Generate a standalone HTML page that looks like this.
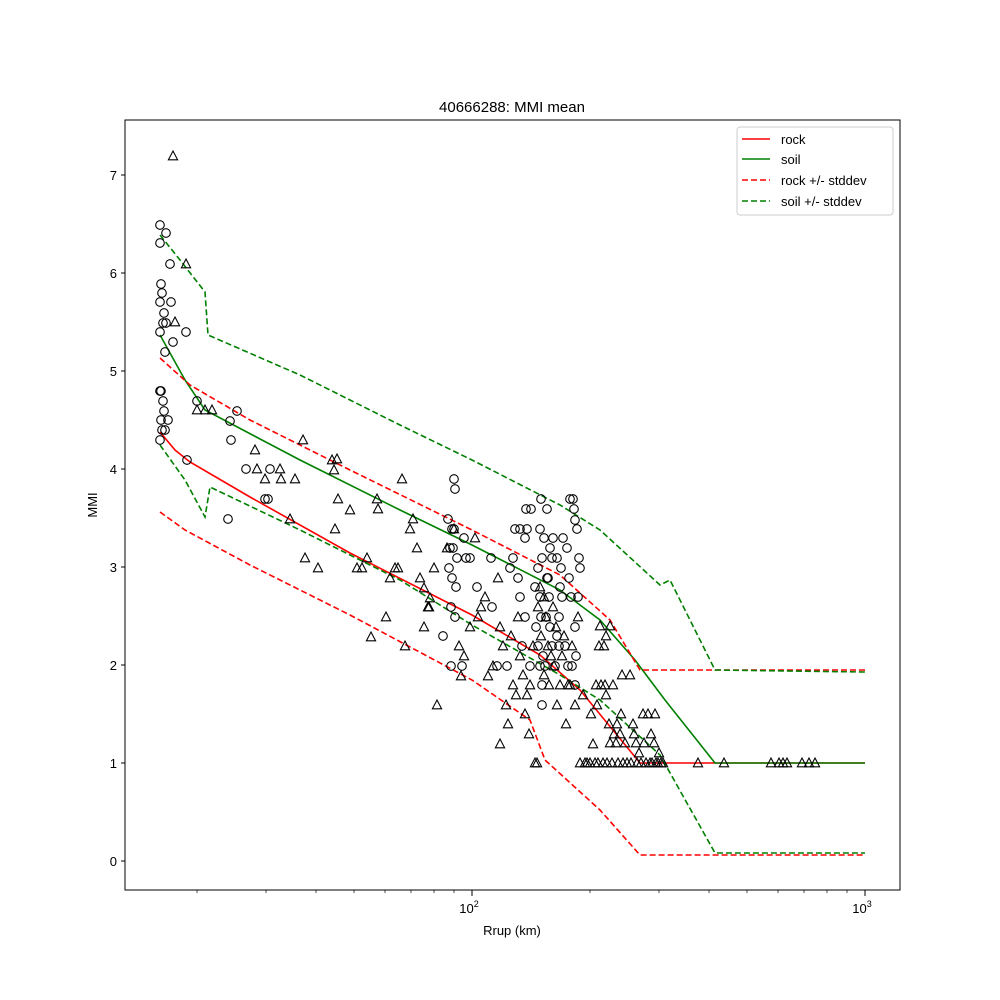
<!DOCTYPE html>
<html><head><meta charset="utf-8"><style>body{margin:0;background:#fff}svg{display:block;font-family:"Liberation Sans","DejaVu Sans",sans-serif}</style></head>
<body>
<svg width="1000" height="1000" viewBox="0 0 1000 1000" xmlns="http://www.w3.org/2000/svg">
<defs>
<circle id="c" r="4.3" fill="none" stroke="#000" stroke-width="1.1"/>
<path id="t" d="M0,-5 L4.6,3.8 L-4.6,3.8 Z" fill="none" stroke="#000" stroke-width="1.1"/>
</defs>
<rect width="1000" height="1000" fill="#fff"/>
<text x="512" y="112" font-size="15" text-anchor="middle">40666288: MMI mean</text>
<!-- lines -->
<g fill="none" stroke-width="1.6">
<polyline stroke="#ff0000" points="160,432 175,450 190,462 250,497 350,553 472,615 540,655 580,690 640,763 865,763"/>
<polyline stroke="#008000" points="160,335 185,380 205,410 300,460 400,510 472,545 560,590 600,620 635,660 665,700 715,763 865,763"/>
<g stroke-dasharray="6,3">
<polyline stroke="#ff0000" points="160,358 190,385 250,420 350,470 472,530 560,575 610,620 640,670 865,670"/>
<polyline stroke="#ff0000" points="160,512 185,530 250,565 350,615 472,680 530,720 545,760 600,810 640,855 865,855"/>
<polyline stroke="#008000" points="160,235 180,260 205,292 208,335 300,375 400,425 472,460 560,505 600,530 660,585 670,580 715,670 865,672"/>
<polyline stroke="#008000" points="160,445 185,480 205,517 210,487 300,530 400,580 472,625 560,675 600,700 660,755 715,853 865,853"/>
</g></g>
<!-- circles -->
<g>
<use href="#c" x="160" y="225"/><use href="#c" x="166" y="233"/><use href="#c" x="160" y="243"/><use href="#c" x="170" y="264"/><use href="#c" x="161" y="284"/><use href="#c" x="162" y="293"/><use href="#c" x="171" y="302"/><use href="#c" x="160" y="302"/><use href="#c" x="164" y="313"/><use href="#c" x="163" y="323"/><use href="#c" x="166" y="323"/><use href="#c" x="160" y="332"/><use href="#c" x="173" y="342"/><use href="#c" x="165" y="352"/><use href="#c" x="186" y="332"/><use href="#c" x="197" y="401"/><use href="#c" x="237" y="411"/><use href="#c" x="230" y="421"/><use href="#c" x="231" y="440"/><use href="#c" x="160" y="391"/><use href="#c" x="161" y="391"/><use href="#c" x="161" y="420"/><use href="#c" x="163" y="401"/><use href="#c" x="164" y="411"/><use href="#c" x="168" y="420"/><use href="#c" x="162" y="430"/><use href="#c" x="165" y="430"/><use href="#c" x="160" y="440"/><use href="#c" x="187" y="460"/><use href="#c" x="228" y="519"/><use href="#c" x="246" y="469"/><use href="#c" x="270" y="469"/><use href="#c" x="265" y="499"/><use href="#c" x="268" y="499"/>
<use href="#c" x="454" y="479"/><use href="#c" x="455" y="489"/><use href="#c" x="448" y="519"/><use href="#c" x="452" y="529"/><use href="#c" x="454" y="529"/><use href="#c" x="464" y="538"/><use href="#c" x="450" y="548"/><use href="#c" x="453" y="548"/><use href="#c" x="457" y="558"/><use href="#c" x="449" y="568"/><use href="#c" x="452" y="578"/><use href="#c" x="456" y="587"/><use href="#c" x="451" y="607"/><use href="#c" x="455" y="617"/><use href="#c" x="443" y="636"/><use href="#c" x="451" y="666"/><use href="#c" x="462" y="666"/><use href="#c" x="466" y="558"/><use href="#c" x="470" y="558"/><use href="#c" x="477" y="587"/><use href="#c" x="491" y="558"/><use href="#c" x="492" y="607"/><use href="#c" x="497" y="666"/><use href="#c" x="507" y="666"/><use href="#c" x="510" y="568"/><use href="#c" x="513" y="558"/><use href="#c" x="515" y="529"/><use href="#c" x="520" y="529"/><use href="#c" x="525" y="538"/><use href="#c" x="526" y="509"/><use href="#c" x="518" y="578"/><use href="#c" x="527" y="529"/><use href="#c" x="531" y="509"/><use href="#c" x="520" y="597"/><use href="#c" x="525" y="617"/><use href="#c" x="522" y="646"/><use href="#c" x="530" y="666"/><use href="#c" x="535" y="587"/><use href="#c" x="538" y="568"/><use href="#c" x="540" y="597"/><use href="#c" x="541" y="617"/><use href="#c" x="544" y="538"/><use href="#c" x="542" y="558"/><use href="#c" x="536" y="627"/><use href="#c" x="538" y="646"/><use href="#c" x="540" y="666"/><use href="#c" x="543" y="656"/><use href="#c" x="545" y="666"/><use href="#c" x="548" y="578"/><use href="#c" x="549" y="597"/><use href="#c" x="541" y="499"/><use href="#c" x="547" y="509"/><use href="#c" x="540" y="529"/><use href="#c" x="546" y="617"/><use href="#c" x="550" y="627"/><use href="#c" x="552" y="646"/><use href="#c" x="555" y="666"/><use href="#c" x="542" y="685"/><use href="#c" x="557" y="636"/><use href="#c" x="560" y="587"/><use href="#c" x="561" y="568"/><use href="#c" x="559" y="617"/><use href="#c" x="562" y="597"/><use href="#c" x="565" y="646"/><use href="#c" x="568" y="666"/><use href="#c" x="550" y="548"/><use href="#c" x="552" y="558"/><use href="#c" x="547" y="578"/><use href="#c" x="553" y="538"/><use href="#c" x="557" y="558"/><use href="#c" x="563" y="538"/><use href="#c" x="567" y="548"/><use href="#c" x="569" y="578"/><use href="#c" x="571" y="597"/><use href="#c" x="575" y="627"/><use href="#c" x="572" y="666"/><use href="#c" x="576" y="656"/><use href="#c" x="559" y="646"/><use href="#c" x="542" y="705"/><use href="#c" x="570" y="499"/><use href="#c" x="573" y="499"/><use href="#c" x="574" y="509"/><use href="#c" x="575" y="520"/><use href="#c" x="577" y="529"/><use href="#c" x="579" y="558"/><use href="#c" x="580" y="568"/><use href="#c" x="578" y="597"/><use href="#c" x="575" y="685"/>
</g>
<!-- triangles -->
<g>
<use href="#t" x="173" y="156"/><use href="#t" x="186" y="264"/><use href="#t" x="175" y="322"/><use href="#t" x="197" y="410"/><use href="#t" x="205" y="410"/><use href="#t" x="212" y="410"/><use href="#t" x="255" y="450"/><use href="#t" x="257" y="469"/><use href="#t" x="265" y="479"/><use href="#t" x="280" y="469"/><use href="#t" x="281" y="479"/><use href="#t" x="295" y="479"/><use href="#t" x="290" y="519"/><use href="#t" x="303" y="440"/><use href="#t" x="332" y="460"/><use href="#t" x="337" y="459"/><use href="#t" x="334" y="470"/><use href="#t" x="338" y="499"/><use href="#t" x="350" y="510"/><use href="#t" x="335" y="529"/><use href="#t" x="305" y="558"/><use href="#t" x="318" y="568"/><use href="#t" x="357" y="568"/><use href="#t" x="362" y="568"/><use href="#t" x="367" y="558"/><use href="#t" x="371" y="637"/><use href="#t" x="377" y="499"/><use href="#t" x="378" y="509"/><use href="#t" x="386" y="617"/><use href="#t" x="390" y="578"/><use href="#t" x="395" y="568"/><use href="#t" x="398" y="568"/><use href="#t" x="402" y="479"/><use href="#t" x="405" y="646"/><use href="#t" x="410" y="529"/><use href="#t" x="413" y="519"/><use href="#t" x="417" y="548"/><use href="#t" x="420" y="578"/><use href="#t" x="424" y="588"/><use href="#t" x="428" y="607"/><use href="#t" x="430" y="598"/><use href="#t" x="437" y="705"/><use href="#t" x="434" y="568"/><use href="#t" x="424" y="627"/><use href="#t" x="429" y="607"/><use href="#t" x="447" y="548"/><use href="#t" x="454" y="529"/><use href="#t" x="459" y="646"/><use href="#t" x="461" y="676"/><use href="#t" x="464" y="656"/><use href="#t" x="470" y="627"/><use href="#t" x="475" y="538"/><use href="#t" x="478" y="617"/><use href="#t" x="481" y="607"/><use href="#t" x="485" y="597"/><use href="#t" x="488" y="676"/><use href="#t" x="493" y="666"/><use href="#t" x="498" y="578"/><use href="#t" x="500" y="627"/><use href="#t" x="500" y="744"/><use href="#t" x="503" y="646"/><use href="#t" x="506" y="705"/><use href="#t" x="508" y="724"/><use href="#t" x="511" y="636"/><use href="#t" x="513" y="685"/><use href="#t" x="516" y="695"/><use href="#t" x="518" y="617"/><use href="#t" x="520" y="656"/><use href="#t" x="523" y="675"/><use href="#t" x="525" y="714"/><use href="#t" x="527" y="695"/><use href="#t" x="529" y="734"/><use href="#t" x="530" y="685"/><use href="#t" x="533" y="646"/><use href="#t" x="535" y="763"/><use href="#t" x="537" y="763"/><use href="#t" x="538" y="607"/><use href="#t" x="540" y="587"/><use href="#t" x="541" y="636"/><use href="#t" x="544" y="597"/><use href="#t" x="544" y="675"/><use href="#t" x="546" y="617"/><use href="#t" x="548" y="646"/><use href="#t" x="549" y="685"/><use href="#t" x="551" y="656"/><use href="#t" x="553" y="607"/><use href="#t" x="554" y="666"/><use href="#t" x="556" y="627"/><use href="#t" x="557" y="705"/><use href="#t" x="560" y="685"/><use href="#t" x="562" y="656"/><use href="#t" x="564" y="636"/><use href="#t" x="566" y="724"/><use href="#t" x="568" y="685"/><use href="#t" x="570" y="685"/><use href="#t" x="572" y="646"/><use href="#t" x="575" y="705"/><use href="#t" x="578" y="617"/><use href="#t" x="580" y="763"/><use href="#t" x="583" y="695"/><use href="#t" x="585" y="763"/><use href="#t" x="587" y="763"/><use href="#t" x="590" y="763"/><use href="#t" x="591" y="714"/><use href="#t" x="593" y="744"/><use href="#t" x="595" y="763"/><use href="#t" x="596" y="685"/><use href="#t" x="597" y="705"/><use href="#t" x="598" y="763"/><use href="#t" x="599" y="646"/><use href="#t" x="600" y="626"/><use href="#t" x="601" y="685"/><use href="#t" x="603" y="763"/><use href="#t" x="604" y="646"/><use href="#t" x="605" y="685"/><use href="#t" x="606" y="636"/><use href="#t" x="607" y="763"/><use href="#t" x="609" y="724"/><use href="#t" x="610" y="743"/><use href="#t" x="612" y="763"/><use href="#t" x="613" y="685"/><use href="#t" x="614" y="734"/><use href="#t" x="616" y="743"/><use href="#t" x="617" y="724"/><use href="#t" x="618" y="763"/><use href="#t" x="620" y="734"/><use href="#t" x="621" y="714"/><use href="#t" x="622" y="675"/><use href="#t" x="623" y="763"/><use href="#t" x="625" y="743"/><use href="#t" x="627" y="763"/><use href="#t" x="630" y="675"/><use href="#t" x="631" y="763"/><use href="#t" x="633" y="724"/><use href="#t" x="634" y="734"/><use href="#t" x="636" y="743"/><use href="#t" x="637" y="763"/><use href="#t" x="639" y="753"/><use href="#t" x="641" y="763"/><use href="#t" x="643" y="714"/><use href="#t" x="644" y="743"/><use href="#t" x="646" y="763"/><use href="#t" x="648" y="714"/><use href="#t" x="650" y="763"/><use href="#t" x="651" y="734"/><use href="#t" x="652" y="763"/><use href="#t" x="654" y="743"/><use href="#t" x="655" y="714"/><use href="#t" x="656" y="763"/><use href="#t" x="658" y="763"/><use href="#t" x="659" y="753"/><use href="#t" x="661" y="763"/><use href="#t" x="663" y="763"/><use href="#t" x="698" y="763"/><use href="#t" x="724" y="763"/><use href="#t" x="771" y="763"/><use href="#t" x="779" y="763"/><use href="#t" x="783" y="763"/><use href="#t" x="787" y="763"/><use href="#t" x="802" y="763"/><use href="#t" x="809" y="763"/><use href="#t" x="815" y="763"/><use href="#t" x="606" y="695"/><use href="#t" x="610" y="626"/>
</g>
<!-- axes frame -->
<rect x="125" y="120" width="775" height="770" fill="none" stroke="#000" stroke-width="1"/>
<g stroke="#000" stroke-width="1">
<line x1="125" x2="121" y1="861" y2="861"/><line x1="125" x2="121" y1="763" y2="763"/><line x1="125" x2="121" y1="665" y2="665"/><line x1="125" x2="121" y1="567" y2="567"/><line x1="125" x2="121" y1="469" y2="469"/><line x1="125" x2="121" y1="371" y2="371"/><line x1="125" x2="121" y1="273" y2="273"/><line x1="125" x2="121" y1="175" y2="175"/>
<line x1="472" x2="472" y1="890" y2="896"/><line x1="865" x2="865" y1="890" y2="896"/>
</g>
<g stroke="#000" stroke-width="0.7">
<line x1="197" x2="197" y1="890" y2="893"/><line x1="266" x2="266" y1="890" y2="893"/><line x1="316" x2="316" y1="890" y2="893"/><line x1="354" x2="354" y1="890" y2="893"/><line x1="385" x2="385" y1="890" y2="893"/><line x1="411" x2="411" y1="890" y2="893"/><line x1="434" x2="434" y1="890" y2="893"/><line x1="454" x2="454" y1="890" y2="893"/>
<line x1="590" x2="590" y1="890" y2="893"/><line x1="659" x2="659" y1="890" y2="893"/><line x1="709" x2="709" y1="890" y2="893"/><line x1="747" x2="747" y1="890" y2="893"/><line x1="778" x2="778" y1="890" y2="893"/><line x1="804" x2="804" y1="890" y2="893"/><line x1="827" x2="827" y1="890" y2="893"/><line x1="847" x2="847" y1="890" y2="893"/>
</g>
<g font-size="13" text-anchor="end">
<text x="117" y="866">0</text><text x="117" y="768">1</text><text x="117" y="670">2</text><text x="117" y="572">3</text><text x="117" y="474">4</text><text x="117" y="376">5</text><text x="117" y="278">6</text><text x="117" y="180">7</text>
</g>
<g font-size="13" text-anchor="middle">
<text x="469" y="913">10<tspan font-size="9" dy="-6">2</tspan></text>
<text x="862" y="913">10<tspan font-size="9" dy="-6">3</tspan></text>
<text x="512" y="935">Rrup (km)</text>
</g>
<text transform="translate(97,505) rotate(-90)" font-size="13" text-anchor="middle">MMI</text>
<!-- legend -->
<rect x="737" y="127" width="156" height="88" rx="3" fill="#fff" stroke="#ccc"/>
<g stroke-width="1.6">
<line x1="742" x2="770" y1="139" y2="139" stroke="#ff0000"/>
<line x1="742" x2="770" y1="159" y2="159" stroke="#008000"/>
<line x1="742" x2="770" y1="180" y2="180" stroke="#ff0000" stroke-dasharray="6,3"/>
<line x1="742" x2="770" y1="201" y2="201" stroke="#008000" stroke-dasharray="6,3"/>
</g>
<g font-size="13">
<text x="781" y="144">rock</text><text x="781" y="164">soil</text><text x="781" y="185">rock +/- stddev</text><text x="781" y="206">soil +/- stddev</text>
</g>
</svg>
</body></html>
